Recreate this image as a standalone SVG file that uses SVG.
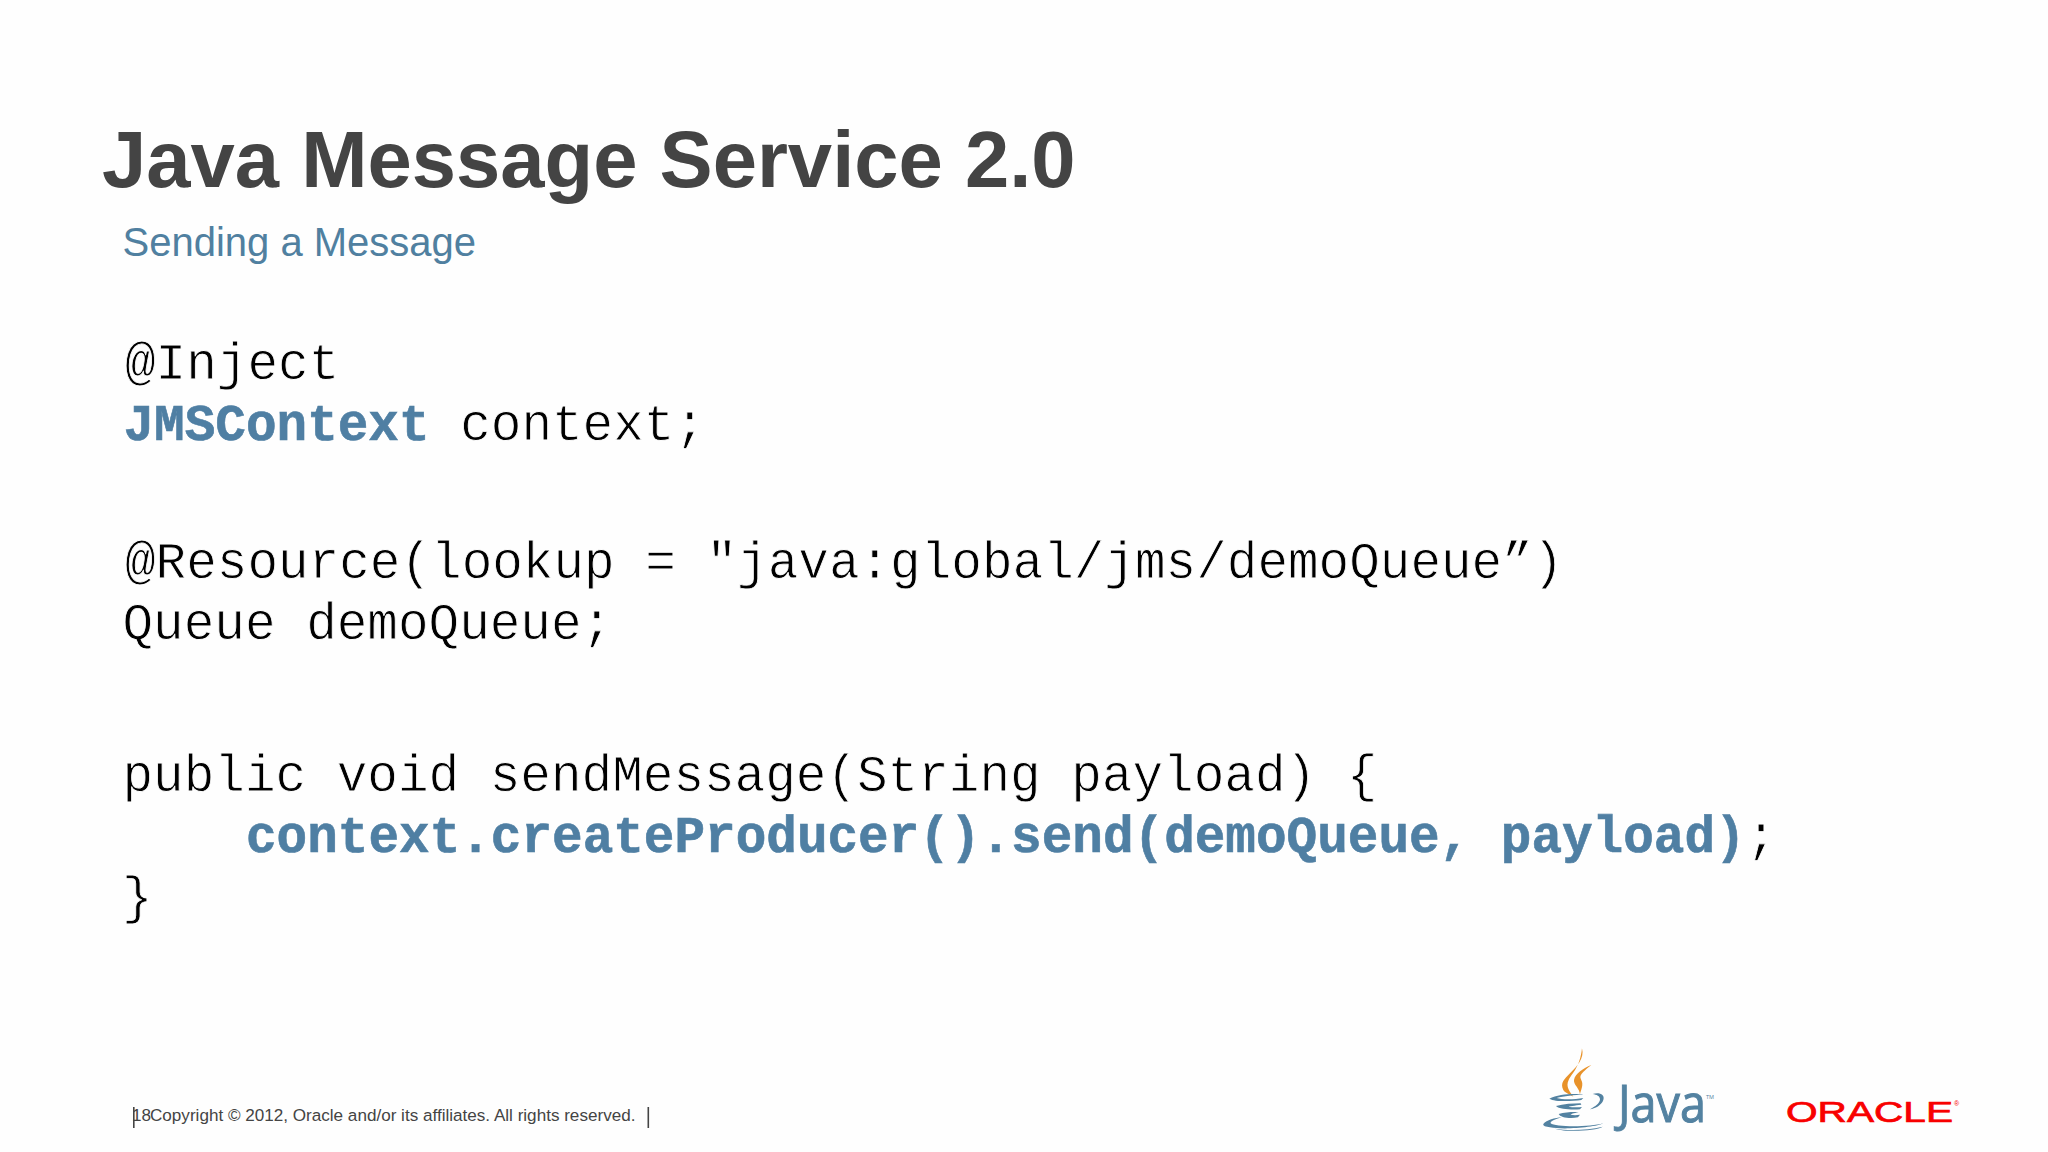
<svg xmlns="http://www.w3.org/2000/svg" width="2048" height="1152" viewBox="0 0 2048 1152">
<style>
.code{font-family:"Liberation Mono",monospace;font-size:51px;fill:#000;stroke:#fefefe;stroke-width:.8px;white-space:pre}
.hl{font-weight:bold;fill:#4f7fa3;stroke:#4f7fa3;stroke-width:.6px}
.cup{fill:#5382a1}
.flame{fill:#e8922a}
</style>
<rect width="2048" height="1152" fill="#fefefe"/>
<text id="title" x="102" y="187" font-family="'Liberation Sans',Arial,sans-serif" font-weight="bold" font-size="79.6" fill="#444444">Java Message Service 2.0</text>
<text id="subtitle" x="122.500" y="256" font-family="'Liberation Sans',Arial,sans-serif" font-size="40" fill="#5080a0">Sending a Message</text>
<g id="code">
<text class="code" x="125" y="379">@Inject</text>
<text class="code" x="123.500" y="440" xml:space="preserve"><tspan class="hl">JMSContext</tspan> context;</text>
<text class="code" x="125" y="578" xml:space="preserve">@Resource(lookup = "java:global/jms/demoQueue”)</text>
<text class="code" x="122.500" y="639" xml:space="preserve">Queue demoQueue;</text>
<text class="code" x="122.500" y="791" xml:space="preserve">public void sendMessage(String payload) {</text>
<text class="code" x="246" y="852" xml:space="preserve"><tspan class="hl">context.createProducer().send(demoQueue, payload)</tspan>;</text>
<text class="code" x="122" y="913">}</text>
</g>
<g id="footer" font-family="'Liberation Sans',Arial,sans-serif" font-size="17.1" fill="#444444">
<rect x="133" y="1107" width="1.6" height="21" fill="#444444"/>
<text x="132" y="1121">18</text>
<text x="150" y="1121">Copyright © 2012, Oracle and/or its affiliates. All rights reserved.</text>
<rect x="647.500" y="1107" width="1.6" height="21" fill="#444444"/>
</g>
<g id="java-logo">
<g transform="translate(1500 1030) scale(.3333)">
<path class="flame" d="M246 55C254 85 232 108 210 130C192 148 180 160 190 180C196 190 208 192 220 200C210 185 196 170 206 150C216 130 240 112 246 55Z"/>
<path class="flame" d="M274 105C250 115 226 130 222 150C220 165 240 175 240 195C240 185 250 170 246 155C242 140 230 140 274 105Z" />
<path class="cup" d="M148 206C175 192 225 190 250 194C225 194 190 198 170 204C190 210 225 208 250 204L244 210C215 214 165 216 148 206Z"/>
<path class="cup" d="M168 228C190 222 220 220 242 220L244 224C225 226 205 230 205 230C215 232 235 232 246 231L240 238C215 240 178 238 168 228Z"/>
<path class="cup" d="M176 252C195 246 220 245 236 246C220 250 212 252 212 254C220 256 230 256 240 254L234 262C210 268 180 262 176 252Z"/>
<path class="cup" d="M278 192C296 186 316 192 310 210C305 226 285 236 270 238C285 230 300 220 300 208C300 198 290 194 278 192Z"/>
<path class="cup" d="M130 282C140 270 165 264 185 262C165 268 150 274 152 280C165 292 270 292 310 280C290 292 190 300 150 292C138 290 128 288 130 282Z"/>
<path class="cup" d="M165 296C200 302 260 302 308 290C290 302 200 308 165 296Z"/>
</g>
<text x="1618" y="1122" font-family="'Open Sans',sans-serif" font-size="51" fill="#5382a1" stroke="#5382a1" stroke-width="1" textLength="96" lengthAdjust="spacingAndGlyphs">Java<tspan font-size="6" dy="-23" stroke-width="0">TM</tspan></text>
</g>
<g id="oracle-logo">
<text x="1786" y="1122" font-family="'Liberation Sans',sans-serif" font-size="29" fill="#f80000" stroke="#f80000" stroke-width=".7" textLength="167" lengthAdjust="spacingAndGlyphs">ORACLE</text>
<text x="1954" y="1106" font-family="'Liberation Sans',sans-serif" font-size="7" fill="#f80000">®</text>
</g>
</svg>
